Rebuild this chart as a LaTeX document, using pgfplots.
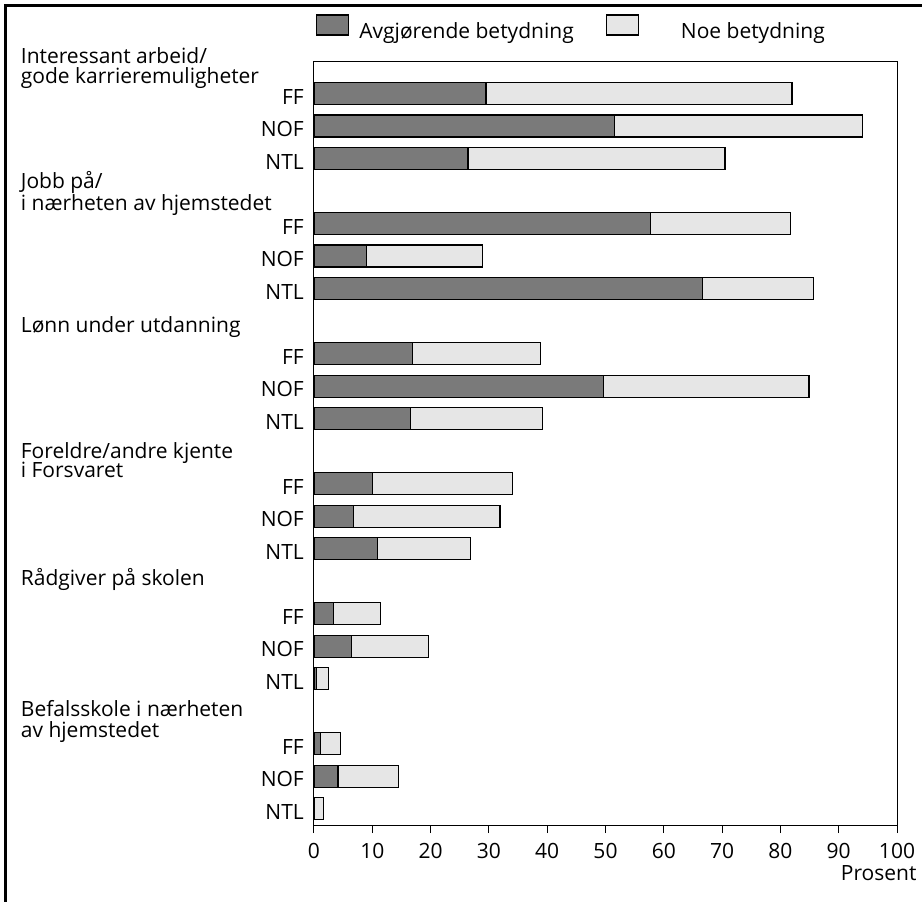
\documentclass[border=0pt]{standalone}
\usepackage{pgfplots}
\usepackage{pgfplotstable}
\pgfplotsset{compat=1.18}
\usepackage{fontspec}
\setmainfont{Open Sans}
\definecolor{darkbar}{RGB}{122,122,122}
\definecolor{lightbar}{RGB}{230,230,230}
\newcommand{\fs}{\fontsize{21bp}{25bp}\selectfont}

\pgfplotstableread{
y dark light
1 29.5 52.5
2 51.5 42.6
3 26.4 44.1
5 57.7 24.0
6 9.0 19.9
7 66.7 19.0
9 16.9 22.0
10 49.7 35.2
11 16.5 22.7
13 10.0 24.0
14 6.8 25.1
15 10.9 16.0
17 3.4 8.0
18 6.5 13.1
19 0.4 2.1
21 1.1 3.5
22 4.1 10.4
23 0.0 1.6
}\datatable

\begin{document}
\begin{tikzpicture}[font=\fs]
\begin{axis}[
  at={(0,0)}, anchor=south west,
  scale only axis, width=583bp, height=764bp,
  xbar stacked, bar width=22bp,
  xmin=0, xmax=100, ymin=0, ymax=23.5, y dir=reverse,
  xtick={0,10,...,100}, xtick pos=bottom, tick align=outside,
  major tick length=8bp,
  ytick={1,2,3,5,6,7,9,10,11,13,14,15,17,18,19,21,22,23},
  yticklabels={FF,NOF,NTL,FF,NOF,NTL,FF,NOF,NTL,FF,NOF,NTL,FF,NOF,NTL,FF,NOF,NTL},
  ytick pos=left,
  ytick style={draw=none},
  axis line style={line width=1bp},
  tick style={line width=1bp, black},
  /pgf/number format/assume math mode=true,
  xticklabel style={font=\fs, inner sep=0pt, anchor=north, yshift=-10bp},
  yticklabel style={font=\fs, inner sep=0pt, anchor=east, xshift=-2bp, yshift=-3bp},
  legend style={draw=none, fill=none, at={(axis description cs:0,1)}, anchor=south west,
    xshift=2bp, yshift=19bp, inner sep=0pt, font=\fs,
    /tikz/every even column/.append style={column sep=30bp}},
  legend columns=2,
  legend cell align=left,
  clip=false,
]
\addplot[fill=darkbar, draw=black, line width=1.2bp,
  legend image code/.code={\draw[fill=darkbar, draw=black, line width=1.2bp] (0bp,-4bp) rectangle (32bp,16bp);}]
  table[x=dark, y=y] {\datatable};
\addlegendentry{\hspace*{8bp}Avgjørende betydning}
\addplot[fill=lightbar, draw=black, line width=1.2bp,
  legend image code/.code={\draw[fill=lightbar, draw=black, line width=1.2bp] (0bp,-4bp) rectangle (32bp,16bp);}]
  table[x=light, y=y] {\datatable};
\addlegendentry{\hspace*{40bp}Noe betydning}
\end{axis}
% group labels
\begin{scope}[every node/.style={anchor=base west, inner sep=0pt, font=\fs}]
\node at (-293.3bp,761bp) {Interessant arbeid/};
\node at (-293.3bp,741bp) {gode karrieremuligheter};
\node at (-293.3bp,636bp) {Jobb på/};
\node at (-293.3bp,614.3bp) {i nærheten av hjemstedet};
\node at (-293.3bp,492bp) {Lønn under utdanning};
\node at (-293.3bp,366.7bp) {Foreldre/andre kjente};
\node at (-293.3bp,347.3bp) {i Forsvaret};
\node at (-293.3bp,239.7bp) {Rådgiver på skolen};
\node at (-293.3bp,108.3bp) {Befalsskole i nærheten};
\node at (-293.3bp,87.3bp) {av hjemstedet};
\node[anchor=base east] at (602.7bp,-55bp) {Prosent};
\end{scope}
% outer frame (top and left edges)
\draw[line width=2.5bp] (-308.5bp,-80bp) -- (-308.5bp,819.5bp) -- (612bp,819.5bp);
\pgfresetboundingbox
\path[use as bounding box] (-314bp,-77bp) rectangle (608bp,825bp);
\end{tikzpicture}
\end{document}
